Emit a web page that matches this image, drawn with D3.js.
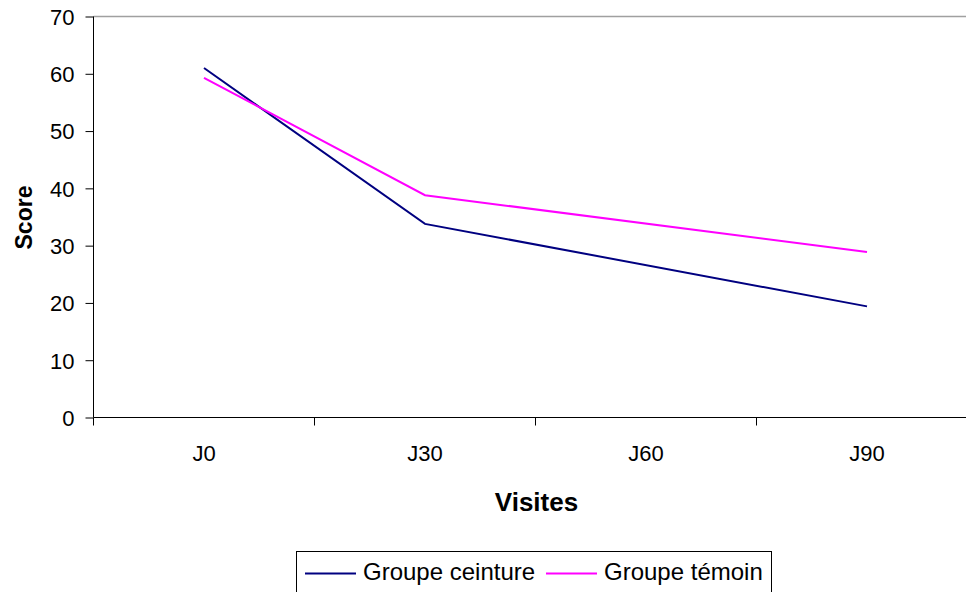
<!DOCTYPE html>
<html>
<head>
<meta charset="utf-8">
<script src="https://cdn.jsdelivr.net/npm/d3@7"></script>
<style>
  body { margin: 0; background: #fff; }
  text { font-family: "Liberation Sans", Arial, sans-serif; }
</style>
</head>
<body>
<div id="chart"></div>
<script>
// data (J60 has no value, lines run J30 -> J90)
var visites = ["J0", "J30", "J60", "J90"];
var ceinture = [61.0, 33.8, null, 19.4];
var temoin = [59.3, 38.8, null, 28.9];
var yTicks = [0, 10, 20, 30, 40, 50, 60, 70];

var seriesNames = ["Groupe ceinture", "Groupe témoin"];
var seriesColors = ["#000080", "#ff00ff"];

// set the dimensions and margins of the graph
var margin = {top: 16.5, left: 93.5},
    width = 884,
    height = 401;

var svg = d3.select("#chart").append("svg")
    .attr("width", 966)
    .attr("height", 592)
    .append("g")
    .attr("transform", "translate(" + margin.left + "," + margin.top + ")");

var x = d3.scaleBand().domain(visites).range([0, width]);
var y = d3.scaleLinear().domain([0, 70]).range([height, 0]);

// top border of plot area
svg.append("line")
    .attr("x1", 0).attr("x2", width)
    .attr("y1", 0).attr("y2", 0)
    .attr("stroke", "#a0a0a0")
    .attr("stroke-width", 1.5);

// y axis
var yAxis = svg.append("g")
    .call(d3.axisLeft(y).tickValues(yTicks).tickSize(8).tickPadding(11));
yAxis.select(".domain").attr("stroke", "#000").attr("d", "M0,0V" + height);
yAxis.selectAll(".tick line").attr("stroke", "#000");
yAxis.selectAll(".tick text")
    .style("font-size", "22px")
    .attr("fill", "#000")
    .attr("dy", "0.36em");

// x axis, ticks between the categories
var xAxis = svg.append("g")
    .attr("transform", "translate(0," + height + ")");
xAxis.append("line")
    .attr("x1", 0).attr("x2", width)
    .attr("stroke", "#000");
xAxis.selectAll(".sep")
    .data(visites)
    .enter().append("line")
    .attr("class", "sep")
    .attr("x1", function (d) { return x(d); })
    .attr("x2", function (d) { return x(d); })
    .attr("y1", 0).attr("y2", 8)
    .attr("stroke", "#000");
xAxis.selectAll("text")
    .data(visites)
    .enter().append("text")
    .attr("x", function (d) { return x(d) + x.bandwidth() / 2; })
    .attr("y", 43)
    .style("text-anchor", "middle")
    .style("font-size", "22px")
    .text(function (d) { return d; });

// lines
var line = d3.line()
    .x(function (d) { return x(d.k) + x.bandwidth() / 2; })
    .y(function (d) { return y(d.v); });

[ceinture, temoin].forEach(function (vals, s) {
    var pts = [];
    vals.forEach(function (v, i) {
        if (v !== null) pts.push({k: visites[i], v: v});
    });
    svg.append("path")
        .datum(pts)
        .attr("fill", "none")
        .attr("stroke", seriesColors[s])
        .attr("stroke-width", 2)
        .attr("d", line);
});

// axis titles
svg.append("text")
    .attr("x", 443)
    .attr("y", 494.5)
    .style("text-anchor", "middle")
    .style("font-size", "26px")
    .style("font-weight", "bold")
    .text("Visites");

svg.append("text")
    .attr("transform", "rotate(-90)")
    .attr("x", -201)
    .attr("y", -61.5)
    .style("text-anchor", "middle")
    .style("font-size", "23px")
    .style("font-weight", "bold")
    .text("Score");

// legend
var leg = d3.select("svg").append("g")
    .attr("transform", "translate(296.5,551.5)");
leg.append("rect")
    .attr("width", 475)
    .attr("height", 42)
    .attr("fill", "#fff")
    .attr("stroke", "#000");
var offsets = [8.5, 249.5];
seriesNames.forEach(function (name, i) {
    leg.append("line")
        .attr("x1", offsets[i]).attr("x2", offsets[i] + 51)
        .attr("y1", 22).attr("y2", 22)
        .attr("stroke", seriesColors[i])
        .attr("stroke-width", 2);
    leg.append("text")
        .attr("x", offsets[i] + 58)
        .attr("y", 28)
        .style("font-size", "24px")
        .text(name);
});
</script>
</body>
</html>
